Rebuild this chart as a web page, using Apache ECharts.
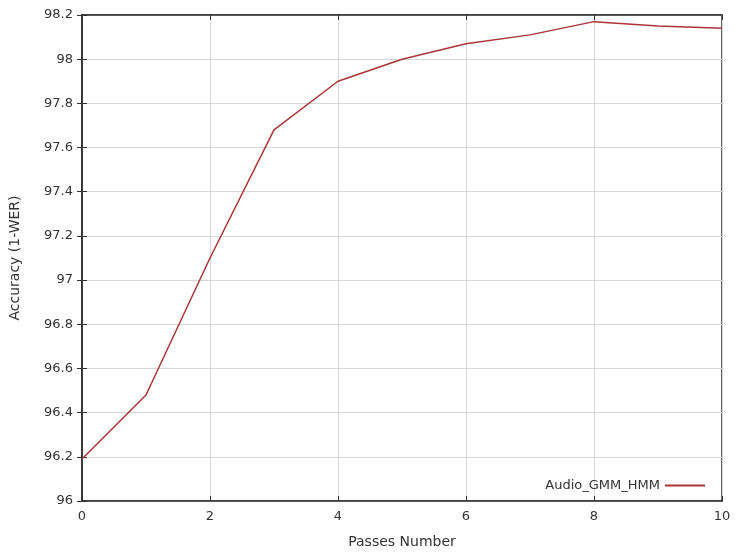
<!DOCTYPE html>
<html><head><meta charset="utf-8">
<script src="https://cdn.jsdelivr.net/npm/echarts@6/dist/echarts.min.js"></script>
<style>html,body{margin:0;padding:0;background:#fff}#c{width:735px;height:554px}</style>
</head><body><div id="c"></div>
<script>
const passes = [0,1,2,3,4,5,6,7,8,9,10];
const accuracy = [96.19,96.48,97.1,97.68,97.9,98.0,98.07,98.11,98.17,98.15,98.14];
const seriesName = 'Audio_GMM_HMM';
const xTitle = 'Passes Number';
const yTitle = 'Accuracy (1-WER)';

const chart = echarts.init(document.getElementById('c'));
const font = 'DejaVu Sans';
const axisCommon = {
  axisLine:{show:true,lineStyle:{color:'#333',width:1.5}},
  axisTick:{show:true,inside:true,length:5,lineStyle:{color:'#333'}},
};
chart.setOption({
  animation:false,
  grid:{left:82,right:13,top:15,bottom:51,show:true,borderColor:'#333',borderWidth:1.5,containLabel:false},
  legend:{show:true,right:25,bottom:57,align:'right',itemWidth:40,itemHeight:2,icon:'rect',itemGap:10,
    textStyle:{fontFamily:font,fontSize:13,color:'#333'},data:[seriesName]},
  xAxis:[{type:'value',min:0,max:10,interval:2,name:xTitle,nameLocation:'middle',nameGap:34,
    nameTextStyle:{fontFamily:font,fontSize:14,color:'#333'},
    axisLabel:{fontFamily:font,fontSize:13,color:'#333',margin:9},
    splitLine:{show:true,lineStyle:{color:'#d6d6d6',width:1}}, ...axisCommon},
    {type:'value',min:0,max:10,interval:2,position:'top',axisLabel:{show:false},splitLine:{show:false},...axisCommon}],
  yAxis:[{type:'value',min:96,max:98.2,interval:0.2,name:yTitle,nameLocation:'middle',nameGap:60,
    nameTextStyle:{fontFamily:font,fontSize:14,color:'#333'},
    axisLabel:{fontFamily:font,fontSize:13,color:'#333',margin:9,formatter:v=>String(+v.toFixed(1))},
    splitLine:{show:true,lineStyle:{color:'#d6d6d6',width:1}}, ...axisCommon},
    {type:'value',min:96,max:98.2,interval:0.2,position:'right',axisLabel:{show:false},splitLine:{show:false},...axisCommon}],
  series:[{name:seriesName,type:'line',data:passes.map((p,i)=>[p,accuracy[i]]),
    showSymbol:false,symbol:'none',lineStyle:{color:'#aa3436',width:1.5},itemStyle:{color:'#aa3436'}}]
});
</script></body></html>
